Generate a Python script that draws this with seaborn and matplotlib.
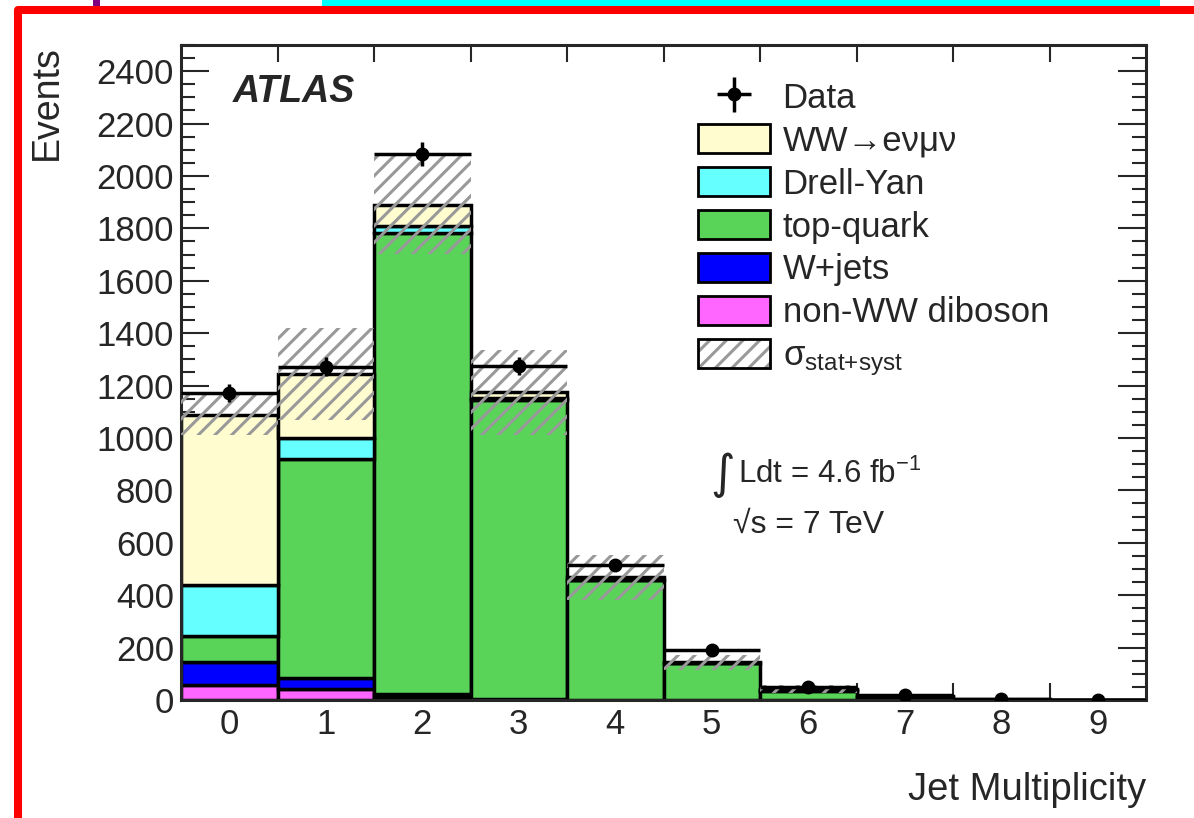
import numpy as np
import pandas as pd
import matplotlib
matplotlib.use("Agg")
import matplotlib.pyplot as plt
import seaborn as sns
from matplotlib.patches import Patch, Rectangle
from matplotlib.ticker import MultipleLocator, FixedLocator, NullFormatter

# ----------------------------------------------------------------------
# Data (events per bin)
# ----------------------------------------------------------------------
njet = list(range(10))
ww = [651, 244, 80, 22, 8, 3, 5, 3, 1, 0.3]
drell_yan = [191, 80, 27, 8, 3, 1, 2, 0.5, 0, 0]
top_quark = [100, 836, 1760, 1140, 455, 139, 35, 12, 1, 0.2]
w_jets = [89, 43, 12, 3, 1, 0.5, 0, 0, 0, 0]
diboson = [57, 42, 10, 1, 0.5, 0.3, 0, 0, 0, 0]
data = [1170, 1272, 2084, 1275, 516, 191, 51, 18, 2, 1]
syst = [77, 175, 188, 162, 85, 28, 15, 5, 1, 0.3]

labels = ["WW→eνμν", "Drell-Yan", "top-quark", "W+jets", "non-WW diboson"]
colors = ["#FFFDD0", "#66FFFF", "#59D459", "#0000FF", "#FF66FF"]

# ----------------------------------------------------------------------
# Style
# ----------------------------------------------------------------------
sns.set_style("ticks")
plt.rcParams["font.family"] = ["Liberation Sans", "DejaVu Sans"]
plt.rcParams["mathtext.fontset"] = "custom"
plt.rcParams["mathtext.rm"] = "Liberation Sans"
plt.rcParams["mathtext.it"] = "Liberation Sans"
plt.rcParams["mathtext.bf"] = "Liberation Sans:bold"
plt.rcParams["hatch.linewidth"] = 2.2

fig = plt.figure(figsize=(11.94, 8.18), dpi=100)
ax = fig.add_axes([0.1516, 0.1443, 0.8082, 0.8007])

df = pd.DataFrame({
    "njet": njet * 5,
    "events": ww + drell_yan + top_quark + w_jets + diboson,
    "process": sum([[lab] * len(njet) for lab in labels], []),
})

# first hue level ends up on top of the stack
sns.histplot(
    data=df, x="njet", weights="events", hue="process",
    hue_order=labels, palette=dict(zip(labels, colors)),
    multiple="stack", discrete=True,
    element="bars", alpha=1, edgecolor="black", linewidth=2.5,
    legend=False, ax=ax,
)

total = np.sum([ww, drell_yan, top_quark, w_jets, diboson], axis=0)
syst = np.array(syst)
ax.bar(njet, 2 * syst, bottom=total - syst, width=1.0, fill=False,
       hatch="//", edgecolor="#999999", linewidth=0, zorder=4)

eb = ax.errorbar(njet, data, xerr=0.5, yerr=np.sqrt(data), fmt="o",
                 color="black", ms=9, elinewidth=2.5, capsize=0, zorder=5)

# ----------------------------------------------------------------------
# Axes
# ----------------------------------------------------------------------
ax.set_xlim(-0.5, 9.5)
ax.set_ylim(0, 2500)
ax.set_xlabel("")
ax.set_ylabel("")
ax.xaxis.set_major_locator(FixedLocator(np.arange(0.5, 9.0, 1.0)))
ax.xaxis.set_major_formatter(NullFormatter())
ax.set_xticks(njet, labels=[str(n) for n in njet], minor=True)
ax.tick_params(axis="x", which="major", length=12, width=1.5,
               direction="in", top=True, bottom=True)
ax.tick_params(axis="x", which="minor", length=0, labelsize=25, pad=6)
ax.yaxis.set_major_locator(MultipleLocator(200))
ax.yaxis.set_minor_locator(MultipleLocator(50))
ax.tick_params(axis="y", which="major", length=20, width=1.5,
               direction="in", right=True, labelsize=25, pad=5)
ax.tick_params(axis="y", which="minor", length=10, width=1.5,
               direction="in", right=True)
for sp in ax.spines.values():
    sp.set_linewidth(2.2)
    sp.set_visible(True)

ax.text(1.0, -0.153, "Jet Multiplicity", transform=ax.transAxes,
        ha="right", va="baseline", fontsize=27.5)
ax.text(-0.139, 1.0, "Events", transform=ax.transAxes, rotation=90,
        ha="center", va="top", fontsize=27)
ax.text(0.054, 0.913, "ATLAS", transform=ax.transAxes, fontsize=27,
        fontweight="bold", style="italic", va="baseline")
ax.text(0.561, 0.343, "∫", transform=ax.transAxes, fontsize=34,
        ha="center", va="center", family=["DejaVu Sans"])
ax.text(0.577, 0.331, r"Ldt = 4.6 fb$^{\mathrm{-1}}$", transform=ax.transAxes,
        fontsize=22.5, va="baseline")
ax.text(0.572, 0.256, "√s = 7 TeV", transform=ax.transAxes,
        fontsize=23, va="baseline")

# ----------------------------------------------------------------------
# Legend
# ----------------------------------------------------------------------
handles = [eb] + [Patch(facecolor=c, edgecolor="black", linewidth=2)
                  for c in colors]
handles.append((Patch(facecolor="white", edgecolor="#999999", hatch="//",
                      linewidth=0),
                Patch(fill=False, edgecolor="black", linewidth=2)))
ax.legend(handles, ["Data"] + labels + [r"$\mathrm{\sigma}_{\mathrm{stat{+}syst}}$"],
          loc="upper left", bbox_to_anchor=(0.536, 0.945), frameon=False,
          fontsize=25, handlelength=2.06, handleheight=0.92,
          handletextpad=0.37, labelspacing=0.27, borderpad=0,
          borderaxespad=0)

# ----------------------------------------------------------------------
# Slide frame around the plot
# ----------------------------------------------------------------------
W, H = 1194.0, 818.0
fig.add_artist(Rectangle((322 / W, 1 - 6 / H), 838 / W, 0.02,
                         transform=fig.transFigure, facecolor="#00FFFF",
                         linewidth=0, zorder=9))
fig.add_artist(Rectangle((93 / W, 1 - 6 / H), 7 / W, 0.02,
                         transform=fig.transFigure, facecolor="#800080",
                         linewidth=0, zorder=9))
fig.add_artist(Rectangle((18 / W, -0.1), 1.2, 1.1 - 10 / H,
                         transform=fig.transFigure, fill=False,
                         edgecolor="red", linewidth=5.8,
                         joinstyle="round", zorder=10))

fig.savefig("out.png", dpi=100)
